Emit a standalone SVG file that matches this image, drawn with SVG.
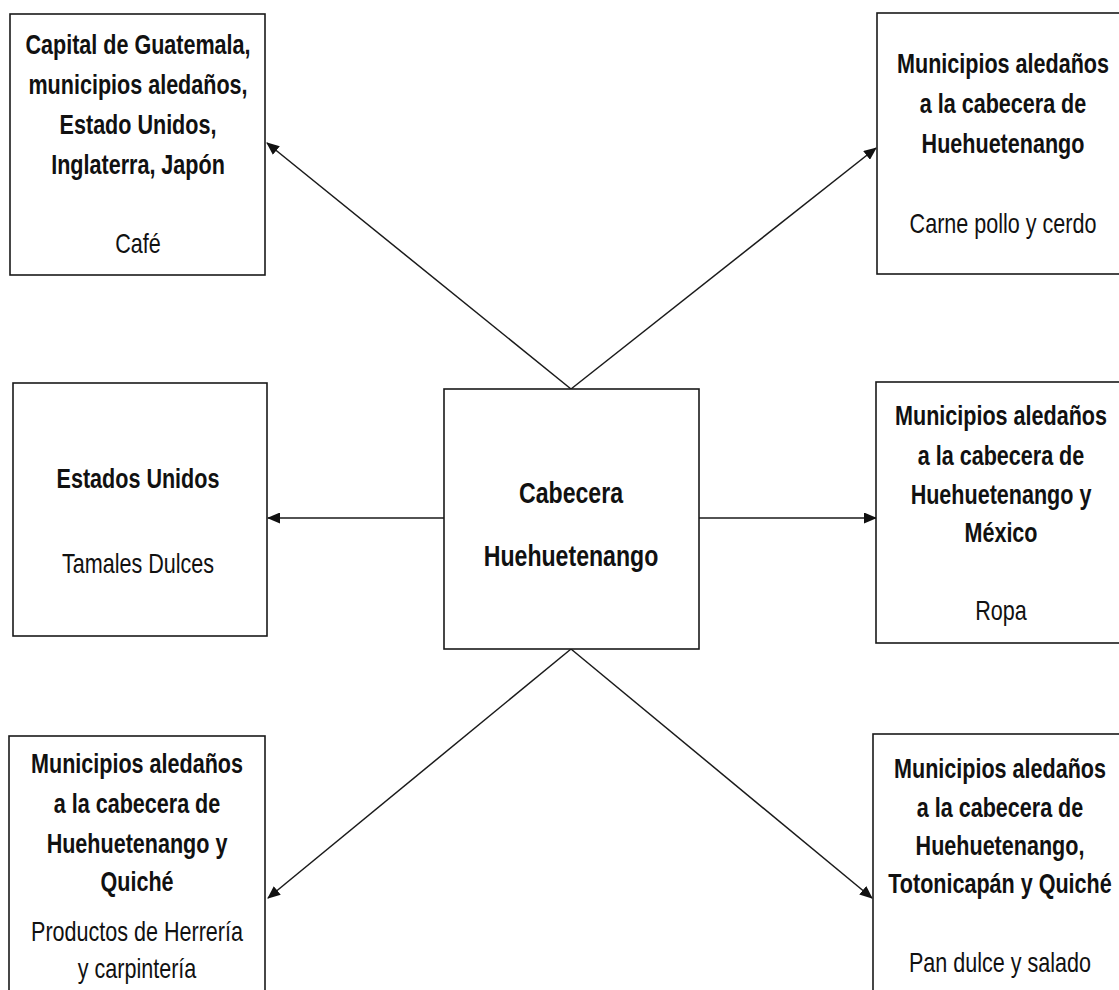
<svg xmlns="http://www.w3.org/2000/svg" width="1119" height="990" viewBox="0 0 1119 990">
<style>
.box{fill:#fff;stroke:#1a1a1a;stroke-width:1.6}
.t{font-family:"Liberation Sans",Arial,sans-serif;font-size:28px;fill:#111;text-anchor:middle}
.big{font-size:30px}
.b{font-weight:bold}
.c{stroke:#1a1a1a;stroke-width:1.5;fill:none;marker-end:url(#ah)}
</style>
<defs>
<marker id="ah" markerUnits="userSpaceOnUse" markerWidth="13" markerHeight="11" refX="12" refY="5.5" orient="auto">
<path d="M0,0 L13,5.5 L0,11 Z" fill="#111"/>
</marker>
</defs>
<rect width="1119" height="990" fill="#fff"/>
<g id="connectors">
<line class="c" x1="571" y1="389" x2="267" y2="143"/>
<line class="c" x1="571" y1="389" x2="876" y2="148"/>
<line class="c" x1="444" y1="518" x2="268" y2="518"/>
<line class="c" x1="699" y1="518" x2="876" y2="518"/>
<line class="c" x1="571" y1="649" x2="268" y2="898"/>
<line class="c" x1="571" y1="649" x2="872" y2="898"/>
</g>
<g id="center">
<rect class="box" x="444" y="389" width="255" height="260"/>
<text class="t b big" transform="translate(571 0) scale(0.77 1)"><tspan x="0" y="503">Cabecera</tspan><tspan x="0" y="566">Huehuetenango</tspan></text>
</g>
<g id="top-left">
<rect class="box" x="10" y="14" width="255" height="261"/>
<text class="t" transform="translate(138 0) scale(0.77 1)"><tspan class="b" x="0" y="54">Capital de Guatemala,</tspan><tspan class="b" x="0" y="94">municipios aledaños,</tspan><tspan class="b" x="0" y="134">Estado Unidos,</tspan><tspan class="b" x="0" y="174">Inglaterra, Japón</tspan><tspan x="0" y="253">Café</tspan></text>
</g>
<g id="top-right">
<rect class="box" x="877" y="13" width="260" height="261"/>
<text class="t" transform="translate(1003 0) scale(0.77 1)"><tspan class="b" x="0" y="73">Municipios aledaños</tspan><tspan class="b" x="0" y="113">a la cabecera de</tspan><tspan class="b" x="0" y="153">Huehuetenango</tspan><tspan x="0" y="233">Carne pollo y cerdo</tspan></text>
</g>
<g id="mid-left">
<rect class="box" x="13" y="383" width="254" height="253"/>
<text class="t" transform="translate(138 0) scale(0.77 1)"><tspan class="b" x="0" y="488">Estados Unidos</tspan><tspan x="0" y="573">Tamales Dulces</tspan></text>
</g>
<g id="mid-right">
<rect class="box" x="876" y="382" width="260" height="261"/>
<text class="t" transform="translate(1001 0) scale(0.77 1)"><tspan class="b" x="0" y="425">Municipios aledaños</tspan><tspan class="b" x="0" y="465">a la cabecera de</tspan><tspan class="b" x="0" y="504">Huehuetenango y</tspan><tspan class="b" x="0" y="542">México</tspan><tspan x="0" y="620">Ropa</tspan></text>
</g>
<g id="bottom-left">
<rect class="box" x="9" y="736" width="256" height="270"/>
<text class="t" transform="translate(137 0) scale(0.77 1)"><tspan class="b" x="0" y="773">Municipios aledaños</tspan><tspan class="b" x="0" y="813">a la cabecera de</tspan><tspan class="b" x="0" y="853">Huehuetenango y</tspan><tspan class="b" x="0" y="891">Quiché</tspan><tspan x="0" y="941">Productos de Herrería</tspan><tspan x="0" y="978">y carpintería</tspan></text>
</g>
<g id="bottom-right">
<rect class="box" x="873" y="734" width="262" height="272"/>
<text class="t" transform="translate(1000 0) scale(0.77 1)"><tspan class="b" x="0" y="778">Municipios aledaños</tspan><tspan class="b" x="0" y="817">a la cabecera de</tspan><tspan class="b" x="0" y="855">Huehuetenango,</tspan><tspan class="b" x="0" y="893">Totonicapán y Quiché</tspan><tspan x="0" y="972">Pan dulce y salado</tspan></text>
</g>
</svg>
